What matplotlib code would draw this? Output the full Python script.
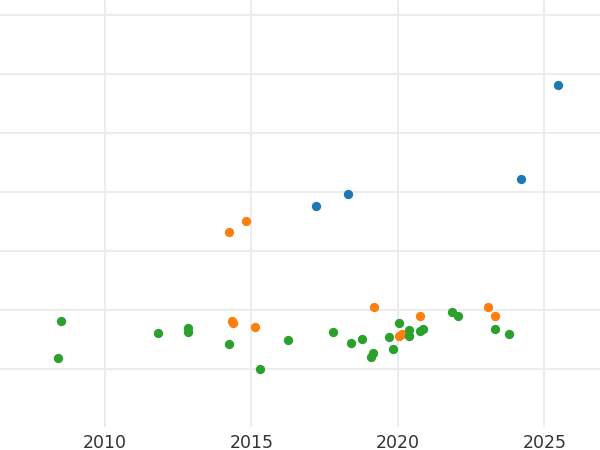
import matplotlib
matplotlib.use("Agg")
import matplotlib.pyplot as plt

# Series data (year, value)
blue_x = [2017.19, 2018.30, 2024.19, 2025.46]
blue_y = [8.763, 8.971, 9.215, 10.808]

orange_x = [2014.22, 2014.82, 2014.34, 2014.37, 2015.14, 2019.18, 2020.77,
            2020.04, 2020.13, 2023.08, 2023.30]
orange_y = [8.327, 8.508, 6.819, 6.785, 6.707, 7.046, 6.893,
            6.564, 6.598, 7.051, 6.893]

green_x = [2008.51, 2008.41, 2011.81, 2012.82, 2012.82, 2014.22, 2016.24,
           2015.31, 2017.78, 2018.40, 2018.77, 2019.16, 2019.08, 2019.70,
           2019.85, 2020.04, 2020.38, 2020.39, 2020.77, 2020.86, 2021.85,
           2022.07, 2023.30, 2023.79]
green_y = [6.808, 6.181, 6.610, 6.690, 6.632, 6.419, 6.486,
           5.995, 6.632, 6.441, 6.503, 6.266, 6.198, 6.547,
           6.334, 6.785, 6.661, 6.559, 6.649, 6.673, 6.966,
           6.903, 6.673, 6.598]

x_ticks = [2010, 2015, 2020, 2025]
y_ticks = [6, 7, 8, 9, 10, 11, 12]

fig = plt.figure(figsize=(6, 4.5), dpi=100)
ax = fig.add_axes([0, 23 / 450, 1, 427 / 450])

ax.scatter(blue_x, blue_y, s=45, color="#1f77b4", linewidths=0, zorder=3)
ax.scatter(orange_x, orange_y, s=45, color="#ff7f0e", linewidths=0, zorder=3)
ax.scatter(green_x, green_y, s=45, color="#2ca02c", linewidths=0, zorder=3)

ax.set_xlim(2006.42, 2026.90)
ax.set_ylim(5.017, 12.254)
ax.set_xticks(x_ticks)
ax.set_xticklabels([str(t) for t in x_ticks])
ax.set_yticks(y_ticks)
ax.set_yticklabels([])
ax.grid(True, color="#ebebeb", linewidth=1.3, zorder=0)
ax.set_axisbelow(True)
for s in ax.spines.values():
    s.set_visible(False)
ax.tick_params(axis="both", length=0)
ax.tick_params(axis="x", labelsize=12.5, labelcolor="#333333", pad=5)

fig.savefig("out.png", dpi=100)
